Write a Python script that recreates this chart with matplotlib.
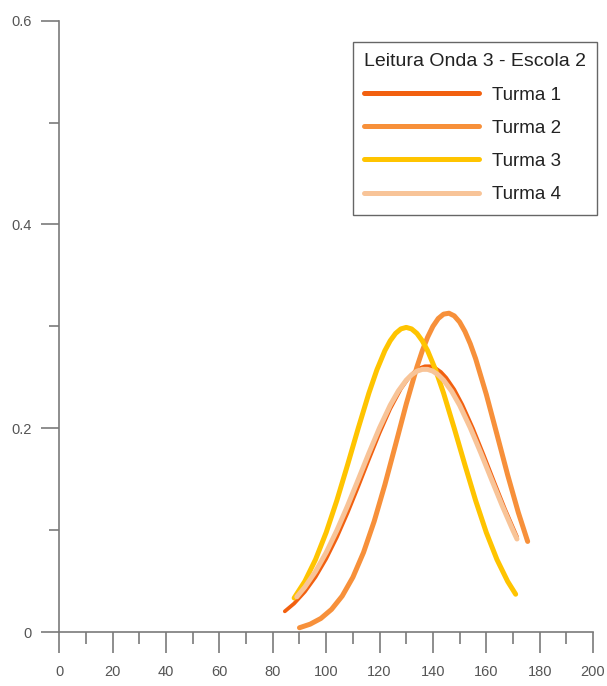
import numpy as np
import matplotlib.pyplot as plt
from matplotlib.ticker import MultipleLocator

plt.rcParams['font.family'] = ['Liberation Sans', 'DejaVu Sans']

# curves (x = score, y = density)
x1 = [84.5, 88, 92, 96, 100, 104, 108, 112, 116, 120, 124, 128, 131, 133, 135,
      137, 139, 141, 143, 145, 148, 151, 155, 159, 163, 167, 171.5]
y1 = [0.0203, 0.0280, 0.0395, 0.0540, 0.0719, 0.0930, 0.1169, 0.1427, 0.1694,
      0.1954, 0.2191, 0.2387, 0.2498, 0.2552, 0.2589, 0.2608, 0.2608, 0.2589,
      0.2552, 0.2495, 0.2380, 0.2232, 0.1998, 0.1738, 0.1470, 0.1207, 0.0935]

x2 = [90, 94, 98, 102, 106, 110, 114, 118, 122, 126, 130, 134, 136, 138, 140,
      142, 144, 146, 148, 150, 152, 154, 156, 160, 164, 168, 172, 175.5]
y2 = [0.0042, 0.0077, 0.0133, 0.0222, 0.0353, 0.0537, 0.0781, 0.1087, 0.1446,
      0.1839, 0.2237, 0.2601, 0.2759, 0.2893, 0.3000, 0.3077, 0.3120, 0.3129,
      0.3103, 0.3043, 0.2950, 0.2829, 0.2683, 0.2333, 0.1939, 0.1542, 0.1173,
      0.0889]

x3 = [88, 92, 96, 100, 104, 108, 112, 116, 119, 122, 124, 126, 128, 130, 132,
      134, 136, 138, 141, 144, 148, 152, 156, 160, 164, 168, 171]
y3 = [0.0334, 0.0497, 0.0711, 0.0977, 0.1291, 0.1639, 0.1999, 0.2344, 0.2573,
      0.2762, 0.2859, 0.2931, 0.2975, 0.2990, 0.2975, 0.2931, 0.2859, 0.2762,
      0.2573, 0.2344, 0.1999, 0.1639, 0.1291, 0.0977, 0.0711, 0.0497, 0.0371]

x4 = [89, 92, 96, 100, 104, 108, 112, 116, 120, 124, 127, 130, 132, 134, 136,
      138, 140, 142, 144, 147, 150, 154, 158, 162, 166, 170, 171.5]
y4 = [0.0345, 0.0440, 0.0594, 0.0780, 0.0997, 0.1238, 0.1495, 0.1755, 0.2004,
      0.2226, 0.2364, 0.2472, 0.2524, 0.2560, 0.2578, 0.2578, 0.2560, 0.2524,
      0.2472, 0.2364, 0.2226, 0.2004, 0.1755, 0.1495, 0.1238, 0.0997, 0.0913]

labels = ['Turma 1', 'Turma 2', 'Turma 3', 'Turma 4']
colors = ['#f2600f', '#f7903a', '#ffc400', '#f8c498']
widths = [2.7, 3.6, 3.6, 3.6]
legend_title = 'Leitura Onda 3 - Escola 2'

fig = plt.figure(figsize=(6.07, 6.86), dpi=100)
ax = fig.add_axes([0.0977, 0.0787, 0.977 - 0.0977, 0.9698 - 0.0787])

for xs, ys, lab, c, w in zip([x1, x2, x3, x4], [y1, y2, y3, y4], labels, colors, widths):
    ax.plot(xs, ys, color=c, lw=w, label=lab, solid_capstyle='round',
            solid_joinstyle='round')

ax.set_xlim(0, 200)
ax.set_ylim(0, 0.6)
ax.xaxis.set_major_locator(MultipleLocator(20))
ax.xaxis.set_minor_locator(MultipleLocator(10))
ax.yaxis.set_minor_locator(MultipleLocator(0.1))
ax.set_yticks([0, 0.2, 0.4, 0.6])
ax.set_yticklabels(['0', '0.2', '0.4', '0.6'])

for s in ['top', 'right']:
    ax.spines[s].set_visible(False)
for s in ['left', 'bottom']:
    ax.spines[s].set_color('#7a7a7a')
    ax.spines[s].set_linewidth(1.2)

ax.tick_params(axis='x', which='major', length=15, width=1.2, color='#7a7a7a',
               labelsize=10.5, labelcolor='#555555', pad=9)
ax.tick_params(axis='x', which='minor', length=8.5, width=1.2, color='#7a7a7a')
ax.tick_params(axis='y', which='major', length=13, width=1.2, color='#7a7a7a',
               labelsize=10.5, labelcolor='#555555', pad=7)
ax.tick_params(axis='y', which='minor', length=7, width=1.2, color='#7a7a7a')

# legend: Turma 1 handle shown at full width like the others
leg = ax.legend(title=legend_title, loc='upper right',
                bbox_to_anchor=(597 / 607, (686 - 42) / 686),
                bbox_transform=fig.transFigure, borderaxespad=0,
                fontsize=13.5, title_fontsize=14, handlelength=6.13,
                handletextpad=0.69, labelspacing=0.86, borderpad=0.6,
                alignment='left', fancybox=False, framealpha=1,
                edgecolor='#666666')
leg.get_frame().set_linewidth(1.0)
for h in leg.legend_handles:
    h.set_linewidth(3.6)
for t in leg.get_texts():
    t.set_color('#222222')
leg.get_title().set_color('#222222')

fig.savefig('out.png', dpi=100)
